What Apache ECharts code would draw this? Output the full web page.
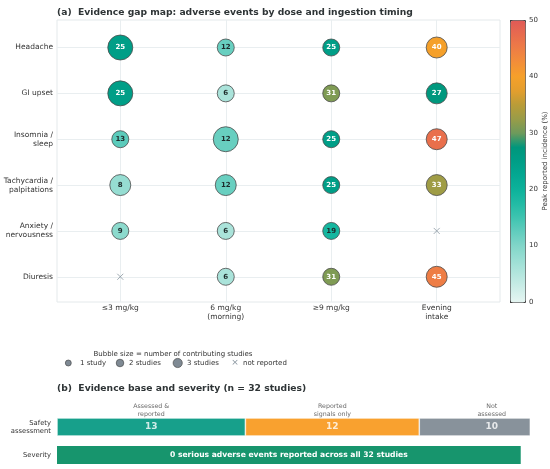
<!DOCTYPE html>
<html>
<head>
<meta charset="utf-8">
<script src="https://cdn.jsdelivr.net/npm/echarts@6/dist/echarts.min.js"></script>
<style>html,body{margin:0;padding:0;background:#fff}#main{width:550px;height:469px}</style>
</head>
<body>
<div id="main"></div>
<script>
    // 数据
    var outcomes = ['Headache', 'GI upset', 'Insomnia /\nsleep', 'Tachycardia /\npalpitations', 'Anxiety /\nnervousness', 'Diuresis'];
    var exposures = ['≤3 mg/kg', '6 mg/kg\n(morning)', '≥9 mg/kg', 'Evening\nintake'];
    // peak reported incidence (%), null = not reported
    var incidence = [
        [25, 12, 25, 40],
        [25, 6, 31, 27],
        [13, 12, 25, 47],
        [8, 12, 25, 33],
        [9, 6, 19, null],
        [null, 6, 31, 45]
    ];
    // number of contributing studies
    var studies = [
        [3, 1, 1, 2],
        [3, 1, 1, 2],
        [1, 3, 1, 2],
        [2, 2, 1, 2],
        [1, 1, 1, null],
        [null, 1, 1, 2]
    ];
    var evidenceCats = ['Assessed &\nreported', 'Reported\nsignals only', 'Not\nassessed'];
    var evidenceCounts = [13, 12, 10];
    var evidenceColors = ['#17a08b', '#f9a12f', '#88929b'];
    var bottomRows = ['Safety\nassessment', 'Severity'];
    var totalStudies = 32;
    var seriousEvents = 0;

    var font = 'DejaVu Sans';
    var bubbleSize = {1: 17, 2: 21, 3: 25};

    var bubbles = [], missing = [];
    outcomes.forEach(function (o, i) {
        exposures.forEach(function (e, j) {
            var v = incidence[i][j];
            if (v === null) {
                missing.push([j, i]);
            } else {
                bubbles.push({
                    value: [j, i, v, studies[i][j]],
                    label: {color: v >= 20 ? '#ffffff' : '#1e2b2b'}
                });
            }
        });
    });

    // stacked evidence bars
    var barSeries = evidenceCats.map(function (c, k) {
        return {
            name: c, type: 'bar', stack: 'ev', xAxisIndex: 1, yAxisIndex: 1,
            barWidth: 18,
            itemStyle: {color: evidenceColors[k], borderColor: '#fff', borderWidth: 0.6},
            data: [evidenceCounts[k], '-']
        };
    });
    barSeries.push({
        name: 'Severity', type: 'bar', stack: 'ev', xAxisIndex: 1, yAxisIndex: 1,
        barWidth: 18,
        itemStyle: {color: '#17956d'},
        label: {
            show: true, position: 'inside', color: '#fff', fontWeight: 'bold',
            fontFamily: font, fontSize: 7.6,
            formatter: seriousEvents + ' serious adverse events reported across all ' + totalStudies + ' studies'
        },
        data: ['-', totalStudies]
    });
    var centers = [], acc = 0;
    evidenceCounts.forEach(function (n, k) {
        centers.push([acc + n / 2, 0, n, k]);
        acc += n;
    });

    var myChart = echarts.init(document.getElementById('main'));
    var option = {
        backgroundColor: '#fff',
        textStyle: {fontFamily: font},
        title: [
            {text: '(a)  Evidence gap map: adverse events by dose and ingestion timing', left: 52, top: 3,
             textStyle: {fontSize: 9.2, fontWeight: 'bold', color: '#2e3436', fontFamily: font}},
            {text: '(b)  Evidence base and severity (n = ' + totalStudies + ' studies)', left: 52, top: 379,
             textStyle: {fontSize: 9.2, fontWeight: 'bold', color: '#2e3436', fontFamily: font}}
        ],
        grid: [
            {left: 57, top: 20, width: 443, height: 282, show: true, borderColor: '#e4e9eb', borderWidth: 1},
            {left: 57, top: 413, width: 473, height: 56},
            {left: 510, top: 20, width: 15, height: 282}
        ],
        xAxis: [
            {
                type: 'value', gridIndex: 0, min: -0.6, max: 3.6,
                axisLine: {show: false},
                axisTick: {show: false, customValues: [0, 1, 2, 3]},
                axisLabel: {customValues: [0, 1, 2, 3], fontSize: 7.5, color: '#333', margin: 2, lineHeight: 9,
                    formatter: function (v) { return exposures[Math.round(v)]; }},
                splitLine: {show: true, lineStyle: {color: '#e9eef0'}}
            },
            {type: 'value', gridIndex: 1, min: 0, max: totalStudies * 1.02, show: false},
            {type: 'value', gridIndex: 2, show: false}
        ],
        yAxis: [
            {
                type: 'value', gridIndex: 0, inverse: true, min: -0.6, max: 5.55,
                axisLine: {show: false},
                axisTick: {show: false, customValues: [0, 1, 2, 3, 4, 5]},
                axisLabel: {customValues: [0, 1, 2, 3, 4, 5], fontSize: 7.5, color: '#333', margin: 4, lineHeight: 9,
                    formatter: function (v) { return outcomes[Math.round(v)]; }},
                splitLine: {show: true, lineStyle: {color: '#e9eef0'}}
            },
            {
                type: 'category', gridIndex: 1, inverse: true, data: bottomRows,
                axisLine: {show: false}, axisTick: {show: false},
                axisLabel: {fontSize: 6.8, color: '#333', margin: 6, lineHeight: 8}
            },
            {
                type: 'value', gridIndex: 2, position: 'right', min: 0, max: 50, interval: 10,
                axisLine: {show: false},
                axisTick: {show: true, length: 3, lineStyle: {color: '#333'}},
                axisLabel: {fontSize: 7, color: '#333', margin: 4},
                splitLine: {show: false},
                name: 'Peak reported incidence (%)', nameLocation: 'middle', nameRotate: 90, nameGap: 15,
                nameTextStyle: {fontSize: 7, color: '#333'}
            }
        ],
        visualMap: {
            type: 'continuous', seriesIndex: 0, dimension: 2, min: 0, max: 50,
            left: 510, top: 20, itemWidth: 15, itemHeight: 282, padding: 0,
            calculable: false, borderColor: '#444', borderWidth: 1,
            inRange: {color: ['#e6f5f2', '#cdeee8', '#b4e6de', '#9bdfd4', '#82d6c9', '#62cdbe', '#3fc4b0',
                '#22bba5', '#0db29b', '#04a892', '#009e87', '#00967c', '#6d9a5c', '#999c48', '#b99c38',
                '#e29e2e', '#f5a02a', '#f38f38', '#ee7d45', '#e86b4e', '#e05a57']}
        },
        graphic: [
            {type: 'text', style: {text: 'Bubble size = number of contributing studies', fill: '#333', font: '7px DejaVu Sans', x: 173, y: 354, align: 'center', verticalAlign: 'middle'}},
            {type: 'circle', shape: {cx: 68.3, cy: 363, r: 3}, style: {fill: '#7f8a94', stroke: '#3c3c3c', lineWidth: 0.6}},
            {type: 'text', style: {text: '1 study', x: 80, y: 363, fill: '#333', font: '7px DejaVu Sans', verticalAlign: 'middle'}},
            {type: 'circle', shape: {cx: 120, cy: 363, r: 3.8}, style: {fill: '#7f8a94', stroke: '#3c3c3c', lineWidth: 0.6}},
            {type: 'text', style: {text: '2 studies', x: 129, y: 363, fill: '#333', font: '7px DejaVu Sans', verticalAlign: 'middle'}},
            {type: 'circle', shape: {cx: 177.7, cy: 363, r: 4.6}, style: {fill: '#7f8a94', stroke: '#3c3c3c', lineWidth: 0.6}},
            {type: 'text', style: {text: '3 studies', x: 187, y: 363, fill: '#333', font: '7px DejaVu Sans', verticalAlign: 'middle'}},
            {type: 'text', style: {text: '×', x: 235, y: 363, fill: '#8a96a0', font: '9px DejaVu Sans', align: 'center', verticalAlign: 'middle'}},
            {type: 'text', style: {text: 'not reported', x: 243, y: 363, fill: '#333', font: '7px DejaVu Sans', verticalAlign: 'middle'}}
        ],
        series: [
            {
                name: 'incidence', type: 'scatter', xAxisIndex: 0, yAxisIndex: 0,
                symbolSize: function (v) { return bubbleSize[v[3]]; },
                itemStyle: {borderColor: '#4a4a4a', borderWidth: 0.8, opacity: 1},
                label: {show: true, position: 'inside', fontSize: 7, fontWeight: 'bold', fontFamily: font,
                    formatter: function (p) { return p.value[2]; }},
                data: bubbles
            },
            {
                name: 'not reported', type: 'scatter', xAxisIndex: 0, yAxisIndex: 0,
                symbol: 'path://M0,0L10,10M10,0L0,10', symbolSize: 6,
                itemStyle: {color: 'none', borderColor: '#8a96a0', borderWidth: 1},
                data: missing
            }
        ].concat(barSeries).concat([
            {
                type: 'scatter', xAxisIndex: 1, yAxisIndex: 1, symbolSize: 0,
                label: {show: true, position: 'inside', color: '#fff', fontWeight: 'bold', fontSize: 9, fontFamily: font,
                    formatter: function (p) { return p.value[2]; }},
                data: centers, z: 5
            },
            {
                type: 'scatter', xAxisIndex: 1, yAxisIndex: 1, symbolSize: 0,
                label: {show: true, position: 'top', distance: 9, color: '#444', fontSize: 6.3, lineHeight: 7.5, fontFamily: font,
                    formatter: function (p) { return evidenceCats[p.value[3]]; }},
                data: centers, z: 5
            }
        ])
    };
    myChart.setOption(option);
</script>
</body>
</html>
